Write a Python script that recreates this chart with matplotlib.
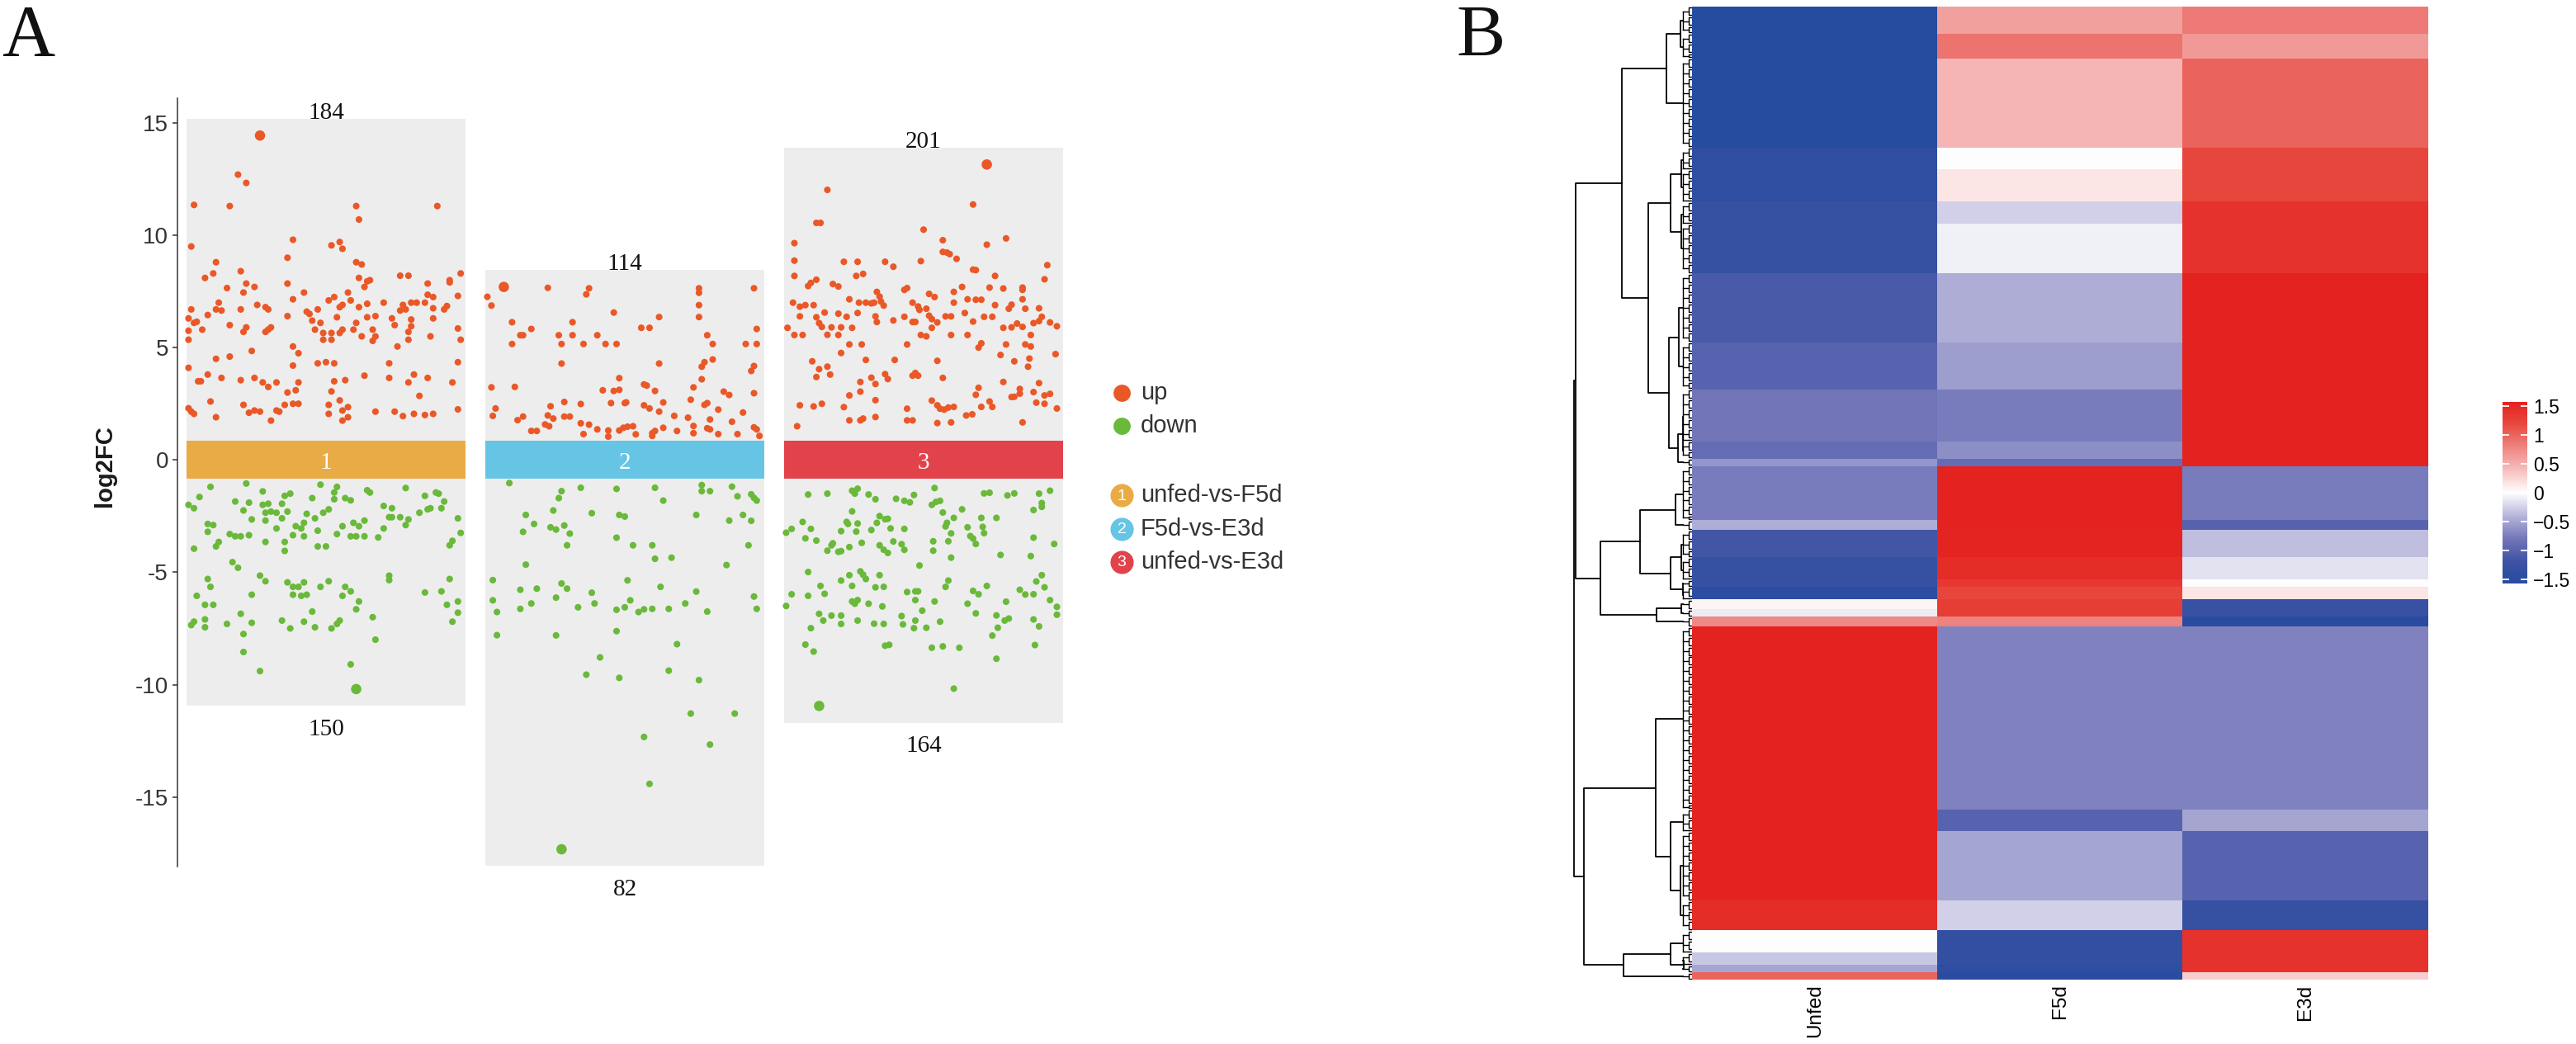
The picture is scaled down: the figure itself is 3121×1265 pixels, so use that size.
import numpy as np
import matplotlib
matplotlib.use("Agg")
import matplotlib.pyplot as plt
from matplotlib.colors import LinearSegmentedColormap, Normalize
from matplotlib.patches import Rectangle
from matplotlib.cm import ScalarMappable

plt.rcParams['font.family'] = ['Liberation Sans', 'DejaVu Sans']
plt.rcParams['axes.unicode_minus'] = False
SERIF = ['Liberation Serif', 'DejaVu Serif']

# ---------------- panel A data ----------------
groups = ["unfed-vs-F5d", "F5d-vs-E3d", "unfed-vs-E3d"]
n_up = [184, 114, 201]
n_down = [150, 82, 164]
band_colors = ["#E8AB45", "#66C5E4", "#E2434B"]
up_color = "#EA5828"
down_color = "#6AB93A"

# (jitter position inside box 0..1, log2FC)
g1_up = [
    (0.26, 14.44), (0.18, 12.7), (0.21, 12.33), (0.02, 11.35), (0.15, 11.3), (0.61, 11.3), (0.905, 11.3), (0.62, 10.7),
    (0.01, 9.5), (0.38, 9.8), (0.52, 9.55), (0.55, 9.7), (0.56, 9.4), (0.36, 9.0), (0.10, 8.8), (0.61, 8.8), (0.63, 8.7),
    (0.19, 8.4), (0.09, 8.3), (0.06, 8.1), (0.99, 8.3), (0.77, 8.2), (0.80, 8.2), (0.62, 8.1), (0.65, 7.95), (0.66, 8.0),
    (0.95, 8.0), (0.95, 7.9), (0.36, 7.85), (0.21, 7.85), (0.24, 7.7), (0.14, 7.65), (0.20, 7.45), (0.42, 7.45), (0.58, 7.45),
    (0.64, 7.7), (0.87, 7.85), (0.87, 7.35), (0.89, 7.25), (0.98, 7.3), (0.11, 7.0), (0.38, 7.15), (0.53, 7.25), (0.51, 7.1),
    (0.59, 7.1), (0.56, 6.9), (0.55, 6.8), (0.25, 6.9), (0.19, 6.7), (0.28, 6.8), (0.29, 6.7), (0.36, 6.4), (0.43, 6.6),
    (0.44, 6.5), (0.47, 6.7), (0.62, 6.8), (0.65, 6.95), (0.71, 7.0), (0.78, 6.9), (0.81, 7.0), (0.83, 7.0), (0.86, 7.0),
    (0.77, 6.65), (0.79, 6.7), (0.89, 6.75), (0.93, 6.7), (0.94, 6.85), (0.01, 6.7), (0.07, 6.45), (0.10, 6.7), (0.12, 6.65),
    (0.0, 6.3), (0.02, 6.1), (0.03, 6.15), (0.05, 5.8), (0.0, 5.75), (0.15, 6.0), (0.21, 5.9), (0.20, 5.7), (0.28, 5.7),
    (0.30, 5.9), (0.29, 5.8), (0.45, 6.2), (0.46, 5.8), (0.48, 6.1), (0.49, 5.65), (0.52, 5.65), (0.49, 5.35), (0.52, 5.35),
    (0.55, 5.65), (0.56, 5.8), (0.54, 6.35), (0.60, 5.8), (0.61, 6.1), (0.63, 5.5), (0.65, 6.35), (0.67, 5.8), (0.68, 6.4),
    (0.68, 5.5), (0.67, 5.3), (0.74, 6.3), (0.75, 6.0), (0.81, 6.25), (0.81, 5.95), (0.80, 5.7), (0.80, 5.35), (0.76, 5.05),
    (0.88, 5.5), (0.89, 6.3), (0.98, 5.85), (0.99, 5.35), (0.0, 5.35), (0.38, 5.05), (0.40, 4.75), (0.23, 4.85), (0.0, 4.1),
    (0.10, 4.5), (0.15, 4.6), (0.07, 3.8), (0.035, 3.5), (0.045, 3.5), (0.12, 3.65), (0.19, 3.55), (0.24, 3.65), (0.27, 3.45),
    (0.29, 3.25), (0.32, 3.45), (0.38, 4.2), (0.36, 3.0), (0.39, 3.1), (0.40, 3.45), (0.47, 4.3), (0.50, 4.35), (0.53, 4.3),
    (0.53, 3.5), (0.52, 3.05), (0.57, 3.55), (0.64, 3.75), (0.73, 4.3), (0.73, 3.65), (0.80, 3.45), (0.82, 3.8), (0.84, 2.85),
    (0.87, 3.65), (0.96, 3.45), (0.98, 4.35), (0.08, 2.6), (0.0, 2.3), (0.01, 2.15), (0.02, 2.05), (0.10, 1.9), (0.20, 2.45),
    (0.22, 2.1), (0.24, 2.2), (0.26, 2.15), (0.30, 1.75), (0.32, 2.2), (0.33, 2.15), (0.35, 2.45), (0.38, 2.5), (0.40, 2.5),
    (0.51, 2.45), (0.51, 2.05), (0.55, 2.65), (0.56, 2.2), (0.58, 2.35), (0.58, 1.9), (0.56, 1.75), (0.68, 2.15), (0.75, 2.15),
    (0.78, 1.95), (0.82, 2.05), (0.86, 2.0), (0.89, 2.05), (0.98, 2.25),
]
g1_down = [
    (0.21, -1.05), (0.08, -1.2), (0.48, -1.1), (0.54, -1.2), (0.53, -1.45), (0.65, -1.35), (0.66, -1.45), (0.79, -1.25),
    (0.27, -1.4), (0.04, -1.65), (0.0, -2.0), (0.02, -2.15), (0.17, -1.85), (0.22, -1.9), (0.20, -2.25), (0.27, -2.0),
    (0.29, -1.95), (0.34, -1.95), (0.35, -1.6), (0.37, -1.5), (0.30, -2.3), (0.28, -2.35), (0.32, -2.35), (0.36, -2.3),
    (0.45, -1.7), (0.51, -2.2), (0.49, -2.35), (0.43, -2.4), (0.53, -1.75), (0.57, -1.7), (0.59, -1.8), (0.23, -2.65),
    (0.28, -2.7), (0.34, -2.6), (0.46, -2.6), (0.42, -2.8), (0.39, -2.95), (0.41, -3.05), (0.32, -3.05), (0.38, -3.35),
    (0.42, -3.4), (0.47, -3.15), (0.54, -3.3), (0.56, -2.95), (0.60, -2.8), (0.62, -2.95), (0.64, -2.7), (0.59, -3.4),
    (0.61, -3.4), (0.64, -3.4), (0.69, -3.45), (0.71, -3.05), (0.71, -2.05), (0.74, -2.15), (0.73, -2.55), (0.74, -2.55),
    (0.77, -2.55), (0.80, -2.65), (0.79, -2.9), (0.84, -2.35), (0.86, -1.6), (0.87, -2.2), (0.88, -2.15), (0.90, -1.45),
    (0.91, -1.5), (0.93, -1.85), (0.92, -2.15), (0.98, -2.6), (0.99, -3.25), (0.96, -3.6), (0.95, -3.8), (0.07, -2.85),
    (0.09, -2.9), (0.07, -3.2), (0.11, -3.65), (0.10, -3.85), (0.15, -3.3), (0.17, -3.4), (0.19, -3.4), (0.22, -3.35),
    (0.28, -3.65), (0.35, -3.65), (0.35, -4.05), (0.47, -3.85), (0.50, -3.85), (0.02, -3.95), (0.16, -4.55), (0.18, -4.8),
    (0.07, -5.3), (0.08, -5.65), (0.03, -6.05), (0.26, -5.15), (0.28, -5.4), (0.23, -6.0), (0.36, -5.45), (0.38, -5.65),
    (0.40, -5.65), (0.42, -5.45), (0.38, -6.0), (0.41, -6.05), (0.43, -6.0), (0.48, -5.65), (0.51, -5.4), (0.56, -6.05),
    (0.57, -5.65), (0.59, -5.85), (0.62, -6.3), (0.61, -6.65), (0.73, -5.15), (0.73, -5.35), (0.86, -5.9), (0.92, -5.85),
    (0.95, -5.3), (0.98, -6.3), (0.94, -6.45), (0.98, -6.8), (0.96, -7.2), (0.06, -6.45), (0.09, -6.45), (0.06, -7.1),
    (0.02, -7.2), (0.01, -7.35), (0.06, -7.45), (0.14, -7.3), (0.19, -6.85), (0.23, -7.25), (0.20, -7.75), (0.34, -7.15),
    (0.37, -7.5), (0.42, -7.2), (0.45, -6.75), (0.46, -7.45), (0.52, -7.5), (0.54, -7.3), (0.55, -7.15), (0.67, -7.0),
    (0.68, -8.0), (0.20, -8.55), (0.26, -9.4), (0.59, -9.1), (0.61, -10.2),
]
g2_up = [
    (0.06, 7.7), (0.0, 7.26), (0.015, 6.87), (0.22, 7.66), (0.37, 7.64), (0.36, 7.37), (0.77, 7.64), (0.77, 7.44),
    (0.77, 6.89), (0.77, 6.36), (0.97, 7.64), (0.46, 6.56), (0.625, 6.36), (0.09, 6.13), (0.12, 5.55), (0.13, 5.55),
    (0.16, 5.83), (0.09, 5.16), (0.26, 5.55), (0.31, 5.55), (0.31, 6.13), (0.27, 5.16), (0.35, 5.16), (0.40, 5.55),
    (0.43, 5.16), (0.47, 5.16), (0.56, 5.88), (0.59, 5.88), (0.80, 5.55), (0.82, 5.16), (0.94, 5.16), (0.98, 5.16),
    (0.98, 5.83), (0.27, 4.29), (0.625, 4.29), (0.82, 4.47), (0.79, 4.35), (0.78, 4.15), (0.97, 4.18), (0.96, 3.96),
    (0.78, 3.59), (0.015, 3.23), (0.10, 3.25), (0.48, 3.64), (0.42, 3.1), (0.46, 3.07), (0.48, 3.12), (0.57, 3.36),
    (0.58, 3.31), (0.61, 3.07), (0.75, 3.23), (0.86, 3.04), (0.88, 2.89), (0.97, 2.97), (0.03, 2.29), (0.02, 1.96),
    (0.11, 1.77), (0.13, 1.93), (0.16, 1.29), (0.18, 1.29), (0.23, 2.39), (0.22, 1.98), (0.21, 1.58), (0.225, 1.5),
    (0.24, 1.84), (0.28, 2.58), (0.28, 1.93), (0.30, 1.93), (0.34, 2.49), (0.34, 1.63), (0.35, 1.15), (0.37, 1.57),
    (0.40, 1.36), (0.44, 1.31), (0.44, 1.04), (0.45, 2.53), (0.48, 1.31), (0.50, 2.53), (0.505, 2.56), (0.495, 1.43),
    (0.51, 1.48), (0.53, 1.5), (0.54, 1.14), (0.57, 2.43), (0.59, 2.29), (0.60, 1.19), (0.61, 1.29), (0.625, 2.15),
    (0.64, 2.56), (0.64, 1.43), (0.68, 1.96), (0.69, 1.29), (0.73, 1.88), (0.74, 2.68), (0.75, 1.51), (0.75, 1.19),
    (0.79, 2.45), (0.80, 2.53), (0.80, 1.41), (0.81, 1.8), (0.81, 1.36), (0.84, 2.24), (0.84, 1.15), (0.89, 1.7),
    (0.91, 1.15), (0.93, 2.11), (0.97, 1.45), (0.98, 1.36), (0.99, 1.07), (0.60, 1.07),
]
g2_down = [
    (0.08, -1.03), (0.34, -1.24), (0.47, -1.29), (0.61, -1.24), (0.78, -1.12), (0.78, -1.39), (0.81, -1.39), (0.89, -1.19),
    (0.91, -1.62), (0.96, -1.53), (0.97, -1.69), (0.98, -1.81), (0.27, -1.39), (0.26, -1.7), (0.64, -1.81), (0.14, -2.45),
    (0.24, -2.25), (0.38, -2.37), (0.48, -2.45), (0.50, -2.52), (0.76, -2.45), (0.93, -2.45), (0.88, -2.7), (0.96, -2.71),
    (0.17, -2.85), (0.13, -3.2), (0.23, -3.0), (0.25, -3.1), (0.28, -2.92), (0.30, -3.28), (0.47, -3.46), (0.29, -3.8),
    (0.53, -3.8), (0.60, -3.8), (0.95, -3.8), (0.61, -4.4), (0.67, -4.35), (0.14, -4.66), (0.87, -4.68), (0.02, -5.35),
    (0.12, -5.78), (0.18, -5.73), (0.27, -5.5), (0.29, -5.73), (0.38, -5.91), (0.51, -5.36), (0.63, -5.65), (0.76, -5.86),
    (0.02, -6.25), (0.035, -6.77), (0.12, -6.63), (0.16, -6.39), (0.25, -6.13), (0.33, -6.56), (0.39, -6.39), (0.47, -6.67),
    (0.50, -6.56), (0.52, -6.25), (0.55, -6.77), (0.57, -6.65), (0.60, -6.63), (0.66, -6.63), (0.72, -6.39), (0.80, -6.75),
    (0.97, -6.08), (0.98, -6.63), (0.035, -7.8), (0.25, -7.81), (0.47, -7.62), (0.69, -8.2), (0.41, -8.79), (0.36, -9.56),
    (0.48, -9.7), (0.66, -9.38), (0.77, -9.8), (0.74, -11.29), (0.90, -11.29), (0.57, -12.33), (0.81, -12.67), (0.59, -14.42),
    (0.27, -17.33),
]
g3_up = [
    (0.73, 13.15), (0.15, 12.02), (0.68, 11.37), (0.11, 10.55), (0.125, 10.55), (0.50, 10.25), (0.80, 9.86), (0.57, 9.78),
    (0.73, 9.58), (0.03, 9.65), (0.57, 9.26), (0.585, 9.23), (0.595, 9.16), (0.62, 8.95), (0.03, 8.87), (0.21, 8.82),
    (0.26, 8.82), (0.36, 8.82), (0.39, 8.6), (0.49, 8.85), (0.95, 8.67), (0.03, 8.19), (0.255, 8.19), (0.28, 8.28),
    (0.68, 8.47), (0.69, 8.45), (0.76, 8.19), (0.94, 8.04), (0.08, 7.74), (0.09, 7.88), (0.11, 8.02), (0.17, 7.83),
    (0.19, 7.72), (0.43, 7.57), (0.44, 7.65), (0.52, 7.39), (0.54, 7.25), (0.61, 7.48), (0.64, 7.7), (0.74, 7.67),
    (0.79, 7.63), (0.86, 7.67), (0.86, 7.57), (0.23, 7.15), (0.265, 7.0), (0.29, 7.0), (0.31, 6.97), (0.33, 7.48),
    (0.34, 7.27), (0.345, 7.05), (0.355, 6.87), (0.32, 7.0), (0.46, 7.0), (0.48, 6.83), (0.485, 6.68), (0.51, 6.73),
    (0.61, 7.0), (0.66, 7.15), (0.69, 7.13), (0.71, 7.13), (0.76, 6.89), (0.82, 6.91), (0.81, 6.73), (0.86, 7.15),
    (0.87, 6.73), (0.92, 6.75), (0.025, 7.0), (0.05, 6.82), (0.07, 6.89), (0.10, 6.89), (0.05, 6.39), (0.11, 6.35),
    (0.14, 6.56), (0.12, 6.09), (0.13, 5.92), (0.165, 5.9), (0.19, 6.51), (0.20, 5.9), (0.22, 6.37), (0.24, 5.88),
    (0.26, 6.54), (0.325, 6.39), (0.33, 6.14), (0.39, 6.21), (0.43, 6.37), (0.46, 6.14), (0.47, 6.14), (0.52, 6.42),
    (0.53, 6.27), (0.55, 6.12), (0.58, 6.39), (0.60, 6.39), (0.65, 6.54), (0.68, 6.16), (0.72, 6.37), (0.75, 6.37),
    (0.79, 5.88), (0.82, 5.9), (0.84, 6.07), (0.86, 5.92), (0.90, 6.09), (0.92, 6.18), (0.93, 6.37), (0.96, 6.12),
    (0.985, 5.95), (0.005, 5.88), (0.03, 5.56), (0.06, 5.56), (0.15, 5.57), (0.19, 5.56), (0.23, 5.14), (0.275, 5.14),
    (0.44, 5.14), (0.49, 5.56), (0.51, 5.5), (0.53, 5.88), (0.60, 5.56), (0.66, 5.56), (0.70, 5.0), (0.71, 5.19),
    (0.80, 5.14), (0.87, 5.14), (0.89, 5.05), (0.89, 5.56), (0.20, 4.76), (0.29, 4.45), (0.395, 4.45), (0.55, 4.41),
    (0.78, 4.67), (0.83, 4.39), (0.88, 4.15), (0.885, 4.51), (0.98, 4.71), (0.095, 4.39), (0.12, 4.04), (0.11, 3.69),
    (0.15, 4.15), (0.16, 3.8), (0.27, 3.47), (0.27, 3.04), (0.31, 3.66), (0.325, 3.38), (0.36, 3.82), (0.37, 3.6),
    (0.46, 3.75), (0.48, 3.75), (0.47, 3.87), (0.57, 3.65), (0.70, 3.21), (0.69, 2.9), (0.79, 3.47), (0.85, 3.16),
    (0.85, 2.95), (0.82, 2.8), (0.83, 2.81), (0.90, 3.02), (0.92, 3.42), (0.94, 2.87), (0.96, 2.94), (0.91, 2.55),
    (0.94, 2.5), (0.985, 2.29), (0.05, 2.43), (0.10, 2.38), (0.13, 2.5), (0.21, 2.35), (0.23, 2.87), (0.325, 2.66),
    (0.23, 1.76), (0.27, 1.76), (0.28, 1.84), (0.325, 1.91), (0.44, 2.28), (0.44, 1.76), (0.46, 1.76), (0.53, 2.64),
    (0.55, 2.43), (0.56, 2.28), (0.575, 2.24), (0.59, 2.33), (0.61, 2.36), (0.655, 1.98), (0.677, 2.03), (0.71, 2.36),
    (0.74, 2.6), (0.75, 2.36), (0.55, 1.64), (0.60, 1.67), (0.86, 1.67), (0.04, 1.5),
]
g3_down = [
    (0.08, -1.54), (0.15, -1.5), (0.24, -1.37), (0.26, -1.28), (0.25, -1.5), (0.30, -1.54), (0.325, -1.75), (0.40, -1.73),
    (0.43, -1.82), (0.45, -1.89), (0.465, -1.56), (0.54, -1.25), (0.53, -2.0), (0.545, -1.87), (0.56, -1.82), (0.72, -1.49),
    (0.74, -1.46), (0.805, -1.58), (0.83, -1.49), (0.92, -1.5), (0.96, -1.37), (0.93, -1.92), (0.93, -2.09), (0.90, -2.23),
    (0.24, -2.29), (0.57, -2.34), (0.64, -2.2), (0.34, -2.5), (0.36, -2.64), (0.37, -2.62), (0.33, -2.8), (0.585, -2.8),
    (0.61, -2.58), (0.58, -2.96), (0.71, -2.58), (0.765, -2.58), (0.66, -3.0), (0.715, -2.98), (0.72, -3.26), (0.06, -2.76),
    (0.09, -3.07), (0.02, -3.07), (0.0, -3.24), (0.22, -2.76), (0.225, -2.85), (0.26, -2.83), (0.255, -3.19), (0.20, -3.17),
    (0.31, -3.12), (0.38, -3.05), (0.43, -3.07), (0.60, -3.27), (0.67, -3.39), (0.68, -3.5), (0.69, -3.74), (0.07, -3.49),
    (0.11, -3.59), (0.17, -3.71), (0.165, -3.8), (0.23, -3.88), (0.275, -3.69), (0.34, -3.8), (0.39, -3.63), (0.42, -3.75),
    (0.355, -4.0), (0.37, -4.14), (0.43, -4.0), (0.535, -3.62), (0.59, -3.62), (0.535, -4.04), (0.15, -4.04), (0.19, -4.09),
    (0.20, -4.06), (0.60, -4.35), (0.78, -4.23), (0.89, -4.28), (0.90, -3.46), (0.975, -3.74), (0.485, -4.7), (0.08, -4.99),
    (0.20, -5.37), (0.23, -5.13), (0.27, -4.96), (0.28, -5.11), (0.29, -5.3), (0.34, -5.13), (0.24, -5.61), (0.125, -5.61),
    (0.14, -5.96), (0.08, -6.05), (0.02, -5.98), (0.0, -6.5), (0.325, -5.67), (0.355, -5.65), (0.24, -6.3), (0.25, -6.4),
    (0.26, -6.24), (0.30, -6.4), (0.35, -6.52), (0.44, -5.88), (0.47, -5.85), (0.48, -5.85), (0.47, -6.24), (0.495, -6.71),
    (0.54, -6.3), (0.59, -5.37), (0.58, -5.65), (0.66, -6.4), (0.68, -5.83), (0.70, -5.98), (0.73, -5.61), (0.85, -5.78),
    (0.87, -5.99), (0.90, -5.98), (0.91, -5.41), (0.93, -5.13), (0.94, -5.67), (0.96, -6.24), (0.985, -6.54), (0.985, -6.89),
    (0.80, -6.31), (0.12, -6.85), (0.135, -7.15), (0.165, -6.93), (0.09, -7.49), (0.20, -6.93), (0.20, -7.3), (0.26, -7.15),
    (0.32, -7.29), (0.355, -7.3), (0.42, -6.95), (0.425, -7.32), (0.465, -7.49), (0.47, -7.15), (0.51, -7.47), (0.56, -7.2),
    (0.69, -6.83), (0.765, -6.92), (0.77, -7.47), (0.795, -7.15), (0.81, -7.06), (0.75, -7.82), (0.90, -7.1), (0.92, -7.41),
    (0.07, -8.22), (0.10, -8.53), (0.36, -8.27), (0.375, -8.23), (0.53, -8.36), (0.57, -8.3), (0.63, -8.36), (0.765, -8.85),
    (0.905, -8.24), (0.61, -10.18), (0.12, -10.95),
]
ups = [g1_up, g2_up, g3_up]
downs = [g1_down, g2_down, g3_down]

# ---------------- panel B data ----------------
samples = ["Unfed", "F5d", "E3d"]
# row blocks of the clustered heatmap (number of genes per block, z-score per sample)
seg_rows = [11, 10, 36, 9, 13, 9, 20, 28, 19, 21, 7, 3, 22, 4, 11, 9, 3, 5, 4, 3, 4, 74, 9, 28, 12, 9, 5, 3, 3]
unfed_z = [-1.55, -1.55, -1.55, -1.4, -1.4, -1.3, -1.3, -1.1, -1.0, -0.8, -0.9, -0.6, -0.75, -0.45, -1.15,
           -1.3, -1.3, -1.45, 0.05, -0.1, 0.75, 1.6, 1.6, 1.6, 1.45, 0.0, -0.3, -0.5, 1.0]
f5d_z = [0.6, 0.9, 0.45, 0.0, 0.15, -0.25, -0.08, -0.45, -0.55, -0.75, -0.65, -0.9, 1.6, 1.6, 1.55,
         1.45, 1.35, 1.2, 1.3, 1.3, 0.8, -0.72, -1.0, -0.5, -0.25, -1.35, -1.35, -1.4, -1.5]
e3d_z = [0.85, 0.65, 1.0, 1.2, 1.2, 1.4, 1.4, 1.6, 1.6, 1.6, 1.6, 1.6, -0.75, -1.0, -0.35,
         -0.15, 0.0, 0.15, -1.25, -1.25, -1.5, -0.72, -0.5, -1.0, -1.3, 1.4, 1.4, 1.4, 0.3]
# block-level clustering: (child a, child b, height); ids < 29 are blocks
linkage = [
    (0, 1, 1.0), (29, 2, 2.14), (3, 4, 0.9), (5, 6, 0.9), (31, 32, 1.85), (7, 8, 1.1), (9, 10, 0.8),
    (35, 11, 1.2), (34, 36, 1.97), (33, 37, 3.71), (30, 38, 5.95), (12, 13, 1.4), (14, 15, 0.9),
    (16, 17, 0.8), (41, 42, 1.85), (40, 43, 4.39), (18, 19, 0.9), (45, 20, 2.98), (44, 46, 7.75),
    (39, 47, 9.9), (23, 24, 1.0), (22, 49, 1.85), (21, 50, 3.09), (26, 27, 0.7), (25, 52, 1.85),
    (53, 28, 5.78), (51, 54, 9.16), (48, 55, 10.0),
]
cmap_vals = [-1.57, -1.2, -0.8, -0.4, 0.0, 0.4, 0.8, 1.2, 1.57]
cmap_cols = ["#264CA0", "#3D52A4", "#7276B9", "#B7B5DB", "#FFFFFF", "#F6BDBD", "#EE8380", "#E8473D", "#E42320"]
cbar_ticks = [-1.5, -1, -0.5, 0, 0.5, 1, 1.5]

W, H = 3121, 1265
fig = plt.figure(figsize=(W / 100, H / 100), dpi=100)


def px_axes(x0, y0, x1, y1):
    return fig.add_axes([x0 / W, 1 - y1 / H, (x1 - x0) / W, (y1 - y0) / H])


# ---------------- panel A ----------------
ax = px_axes(215, 119, 1300, 1050)
ax.set_xlim(0.503, 3.5)
ax.set_ylim(-18.1, 16.1)
box_w = 0.934
for i in range(3):
    g = i + 1
    ux, uy = np.array(ups[i]).T
    dx, dy = np.array(downs[i]).T
    top = uy.max() + 0.75
    bot = dy.min() - 0.75
    ax.add_patch(Rectangle((g - box_w / 2, bot), box_w, top - bot, facecolor="#EDEDED", lw=0, zorder=0))
    ax.add_patch(Rectangle((g - box_w / 2, -0.85), box_w, 1.7, facecolor=band_colors[i], lw=0, zorder=1))
    ax.text(g, -0.12, str(g), color="white", family=SERIF, fontsize=21, ha="center", va="center", zorder=3)
    su = np.where(uy == uy.max(), 82, 34)
    sd = np.where(dy == dy.min(), 82, 34)
    ax.scatter(g + (ux - 0.5) * box_w * 0.985, uy, s=su, color=up_color, lw=0, zorder=2)
    ax.scatter(g + (dx - 0.5) * box_w * 0.985, dy, s=sd, color=down_color, lw=0, zorder=2)
    ax.text(g, top, str(n_up[i]), ha="center", va="baseline", fontsize=21, family=SERIF, color="#111111")
    ax.annotate(str(n_down[i]), xy=(g, bot), xytext=(0, -11), textcoords="offset points",
                ha="center", va="top", fontsize=21, family=SERIF, color="#111111")

for s in ["top", "right", "bottom"]:
    ax.spines[s].set_visible(False)
ax.spines["left"].set_color("#333333")
ax.spines["left"].set_linewidth(1.1)
ax.set_xticks([])
ax.set_yticks([-15, -10, -5, 0, 5, 10, 15])
ax.tick_params(axis="y", labelsize=20, labelcolor="#333333", color="#333333", length=4.5, width=1.1)
ax.patch.set_alpha(0)
fig.text(127 / W, 1 - 565 / H, "log2FC", rotation=90, fontsize=21, fontweight="bold",
         ha="center", va="center", color="#1A1A1A")

# legend drawn in pixel space
ov = fig.add_axes([0, 0, 1, 1], zorder=-1)
ov.set_xlim(0, W)
ov.set_ylim(H, 0)
ov.axis("off")
for y, c, lab in zip([476, 516], [up_color, down_color], ["up", "down"]):
    ov.scatter(1359, y, s=225, color=c, lw=0)
    ov.text(1382, y, lab, fontsize=21, color="#333333", va="center", ha="left")
for k, (y, c, lab) in enumerate(zip([600, 641, 681], band_colors, groups)):
    ov.scatter(1359, y, s=410, color=c, lw=0)
    ov.text(1359, y + 1, str(k + 1), fontsize=14, color="white", ha="center", va="center")
    ov.text(1382, y, lab, fontsize=21, color="#333333", va="center", ha="left")

fig.text(2 / W, 1 - 67 / H, "A", fontsize=64, family=SERIF, va="baseline", ha="left", color="#111111")
fig.text(1764 / W, 1 - 67 / H, "B", fontsize=64, family=SERIF, va="baseline", ha="left", color="#111111")

# ---------------- panel B ----------------
cmap = LinearSegmentedColormap.from_list(
    "bwr_custom", [((v - cmap_vals[0]) / (cmap_vals[-1] - cmap_vals[0]), c) for v, c in zip(cmap_vals, cmap_cols)])
norm = Normalize(cmap_vals[0], cmap_vals[-1])

Z = np.column_stack([np.repeat(unfed_z, seg_rows), np.repeat(f5d_z, seg_rows), np.repeat(e3d_z, seg_rows)])
n_rows = Z.shape[0]
hm = px_axes(2050, 8, 2942, 1187)
hm.imshow(Z, cmap=cmap, norm=norm, aspect="auto", interpolation="nearest", extent=(0, 3, n_rows, 0))
hm.set_xticks([0.5, 1.5, 2.5])
hm.set_xticklabels(samples, rotation=90, fontsize=17.5, va="top", ha="center")
hm.set_yticks([])
hm.tick_params(axis="x", length=0, pad=4)
for s in hm.spines.values():
    s.set_visible(False)

# dendrogram
dd = px_axes(1900, 8, 2050, 1187)
dd.set_xlim(10.5, 0)
dd.set_ylim(n_rows, 0)
dd.axis("off")
lw = 1.3
starts = np.concatenate([[0], np.cumsum(seg_rows)[:-1]])
pos, hgt = {}, {}
grp_h, leaf_h = 0.3, 0.75
for k, (st, n) in enumerate(zip(starts, seg_rows)):
    centers = st + 0.5 + np.arange(n)
    mids = []
    for j in range(0, n, 4):
        chunk = centers[j:j + 4]
        a, b = chunk[0], chunk[-1]
        if len(chunk) > 1:
            dd.plot([0, grp_h, grp_h, 0], [a, a, b, b], color="black", lw=1.0)
        else:
            dd.plot([0, grp_h], [a, a], color="black", lw=1.0)
        mids.append((a + b) / 2)
    for m in mids:
        dd.plot([grp_h, leaf_h], [m, m], color="black", lw=1.0)
    if len(mids) > 1:
        dd.plot([leaf_h, leaf_h], [mids[0], mids[-1]], color="black", lw=1.0)
    pos[k] = (mids[0] + mids[-1]) / 2
    hgt[k] = leaf_h
next_id = len(seg_rows)
for a, b, h in linkage:
    dd.plot([hgt[a], h, h, hgt[b]], [pos[a], pos[a], pos[b], pos[b]], color="black", lw=lw)
    pos[next_id] = (pos[a] + pos[b]) / 2
    hgt[next_id] = h
    next_id += 1

# colour key
cb_ax = px_axes(3032, 487, 3062, 707)
sm = ScalarMappable(norm=norm, cmap=cmap)
cb = fig.colorbar(sm, cax=cb_ax, ticks=cbar_ticks)
cb.outline.set_visible(False)
cb.ax.set_yticklabels([("\u2212" + f"{abs(t):g}") if t < 0 else f"{t:g}" for t in cbar_ticks])
cb.ax.tick_params(direction="in", length=6, width=1.3, color="white", labelsize=16.5, pad=5,
                  left=True, right=True, labelleft=False, labelright=True)

fig.savefig("out.png", dpi=100)
